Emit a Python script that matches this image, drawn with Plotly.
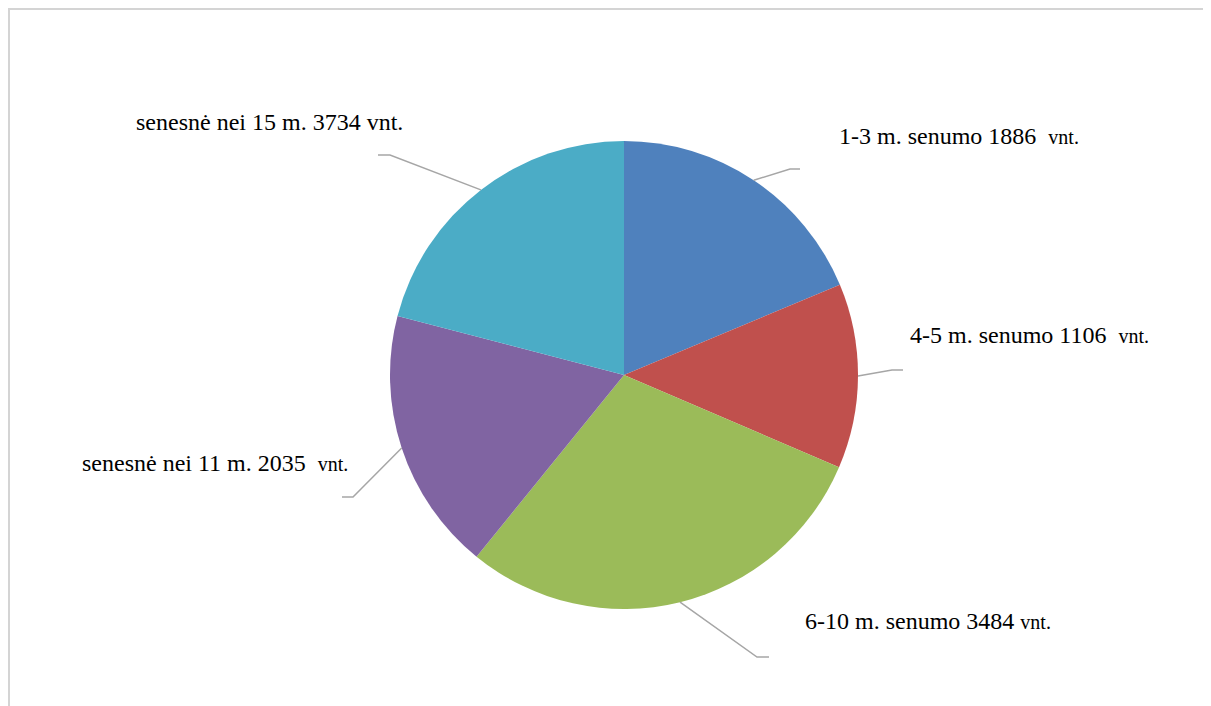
import plotly.graph_objects as go
import numpy as np

# ---- data ----
categories = ["1-3 m. senumo", "4-5 m. senumo", "6-10 m. senumo",
              "senesnė nei 11 m.", "senesnė nei 15 m."]
counts = [1886, 1106, 3484, 2035, 3734]
# slice sizes as drawn in the reference (percent of the circle)
slice_shares = [18.7, 12.75, 29.4, 18.2, 20.95]
unit_gap = ["&nbsp; ", "&nbsp; ", " ", "&nbsp; ", " "]
small_unit = [True, True, True, True, False]

# ---- style ----
colors = ["#4F81BD", "#C0504D", "#9BBB59", "#8064A2", "#4BACC6"]
OFF = 8                      # page body margin
W, H = 1203, 698             # figure size
CX, CY, R = 624, 375, 234    # page pixel coords
FONT = "Liberation Serif, Times New Roman, serif"
FS = 24
FS_UNIT = 20
LEADER = "#a6a6a6"

# leader elbows / ends and label anchors (page pixel layout)
elbows = [(790, 169), (892, 370), (757, 657), (353, 497), (390, 155)]
ends = [(800, 169), (903, 370), (769, 657), (342, 497), (378, 155)]
label_pos = [(837, 136, "left"), (908, 335, "left"), (803, 621, "left"),
             (350, 463, "right"), (405, 122, "right")]


def px(x):
    return (x - OFF) / W


def py(y):
    return 1 - (y - OFF) / H


fig = go.Figure()
fig.add_trace(go.Pie(
    labels=categories,
    values=slice_shares,
    sort=False,
    direction="clockwise",
    rotation=0,
    marker=dict(colors=colors, line=dict(width=0)),
    textinfo="none",
    hoverinfo="label",
    showlegend=False,
    domain=dict(x=[px(CX - R), px(CX + R)], y=[py(CY + R), py(CY - R)]),
))

# mid angles from the data
shares = np.array(slice_shares, dtype=float)
cum = np.cumsum(shares) / shares.sum() * 360.0
starts = np.concatenate([[0.0], cum[:-1]])
mids = (starts + cum) / 2.0

shapes = []
annotations = []
for i, (cat, cnt) in enumerate(zip(categories, counts)):
    th = np.deg2rad(mids[i])
    sx = CX + R * np.sin(th)
    sy = CY - R * np.cos(th)
    ex, ey = elbows[i]
    fx, fy = ends[i]
    path = f"M {px(sx)} {py(sy)} L {px(ex)} {py(ey)} L {px(fx)} {py(fy)}"
    shapes.append(dict(type="path", xref="paper", yref="paper", path=path,
                       line=dict(color=LEADER, width=1.5)))
    if small_unit[i]:
        txt = f"{cat} {cnt}{unit_gap[i]}<span style='font-size:{FS_UNIT}px'>vnt.</span>"
    else:
        txt = f"{cat} {cnt}{unit_gap[i]}vnt."
    lx, ly, anc = label_pos[i]
    annotations.append(dict(x=px(lx), y=py(ly), xref="paper", yref="paper",
                            text=txt, showarrow=False, xanchor=anc,
                            yanchor="middle",
                            font=dict(family=FONT, size=FS, color="black")))

# chart border
shapes.append(dict(type="rect", xref="paper", yref="paper",
                   x0=px(9), x1=px(1207), y0=py(730), y1=py(9),
                   line=dict(color="#d4d4d4", width=2), fillcolor="rgba(0,0,0,0)"))

fig.update_layout(
    width=W, height=H,
    margin=dict(l=0, r=0, t=0, b=0),
    paper_bgcolor="white", plot_bgcolor="white",
    shapes=shapes, annotations=annotations,
    font=dict(family=FONT),
)

fig.write_html("out.html")
